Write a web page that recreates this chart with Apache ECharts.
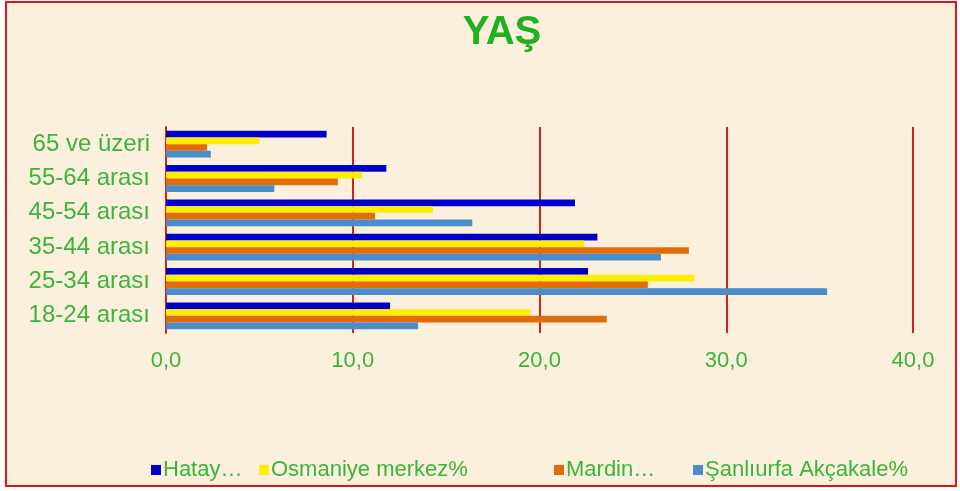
<!DOCTYPE html>
<html>
<head>
<meta charset="utf-8">
<script src="https://cdn.jsdelivr.net/npm/echarts@6/dist/echarts.min.js"></script>
<style>
  html, body { margin: 0; padding: 0; background: #ffffff; }
  #frame {
    position: absolute; left: 5px; top: 1px; width: 948px; height: 482px;
    border: 2px solid #e0141a; background: #fbf0dc;
  }
  #chart { width: 948px; height: 482px; }
</style>
</head>
<body>
<div id="frame"><div id="chart"></div></div>
<script>
// data, bottom category first
var categories = ["18-24 arası", "25-34 arası", "35-44 arası", "45-54 arası", "55-64 arası", "65 ve üzeri"];
var hatay     = [12.0, 22.6, 23.1, 21.9, 11.8, 8.6];
var osmaniye  = [19.5, 28.3, 22.4, 14.3, 10.5, 5.0];
var mardin    = [23.6, 25.8, 28.0, 11.2, 9.2, 2.2];
var sanliurfa = [13.5, 35.4, 26.5, 16.4, 5.8, 2.4];
var names = ["Hatay…", "Osmaniye merkez%", "Mardin…", "Şanlıurfa Akçakale%"];
var colors = ["#0000c8", "#ffee00", "#e36c0a", "#4a8ccc"];

var green = "#3cb43c";
var font = "Liberation Sans, Arial, sans-serif";

function legendAt(i, x) {
    return {
        data: [names[i]],
        left: x, top: 451,
        itemWidth: 10, itemHeight: 10,
        icon: "rect",
        itemGap: 4,
        textStyle: { color: green, fontSize: 22, fontFamily: font, padding: [0, 0, 0, -3] }
    };
}

var values = [hatay, osmaniye, mardin, sanliurfa];
var series = [];
for (var i = 0; i < 4; i++) {
    series.push({
        name: names[i],
        type: "bar",
        data: values[i],
        barGap: "0%",
        barCategoryGap: "22%",
        itemStyle: { color: colors[i] }
    });
}

var option = {
    animation: false,
    title: {
        text: "YAŞ",
        left: 490, top: 5,
        textAlign: "center",
        textStyle: { color: "#22b022", fontSize: 40, fontWeight: "bold", fontFamily: font }
    },
    legend: [legendAt(0, 139), legendAt(1, 247), legendAt(2, 542), legendAt(3, 681)],
    grid: { left: 159, right: 42, top: 124, height: 206, containLabel: false },
    xAxis: {
        type: "value",
        min: 0, max: 40, interval: 10,
        axisLine: { show: false },
        axisTick: { show: false },
        axisLabel: {
            color: green, fontSize: 22, fontFamily: font, margin: 17,
            formatter: function (v) { return v.toFixed(1).replace(".", ","); }
        },
        splitLine: { lineStyle: { color: "#d42020", width: 2 } }
    },
    yAxis: {
        type: "category",
        data: categories,
        axisLine: { lineStyle: { color: "#d42020", width: 2 } },
        axisTick: { show: false },
        axisLabel: { color: green, fontSize: 24, fontFamily: font, margin: 16 }
    },
    series: series
};

var myChart = echarts.init(document.getElementById("chart"));
myChart.setOption(option);
</script>
</body>
</html>
